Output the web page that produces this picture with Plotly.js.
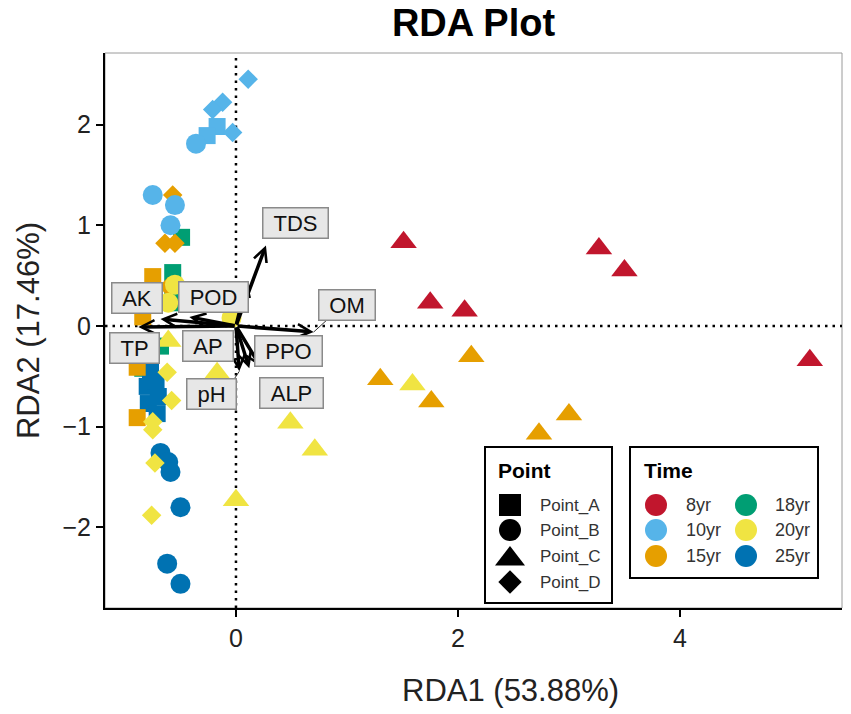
<!DOCTYPE html>
<html>
<head>
<meta charset="utf-8">
<script src="https://cdn.plot.ly/plotly-3.0.1.min.js"></script>
<style>html,body{margin:0;padding:0;background:#fff;}#chart{width:851px;height:714px;}</style>
</head>
<body>
<div id="chart"></div>
<script>
// ---------- data ----------
const timeLevels = ['8yr', '10yr', '15yr', '18yr', '20yr', '25yr'];
const timeColors = ['#C1162D', '#56B4E9', '#E69F00', '#009E73', '#F0E442', '#0072B2'];
const pointLevels = ['Point_A', 'Point_B', 'Point_C', 'Point_D'];
const pointSymbols = ['square', 'circle', 'triangle-up', 'diamond'];

// sample scores (RDA1, RDA2) per time / point
const sampleTime = [
  '8yr','8yr','8yr','8yr','8yr','8yr',
  '10yr','10yr','10yr','10yr','10yr','10yr','10yr','10yr','10yr','10yr',
  '15yr','15yr','15yr','15yr','15yr','15yr','15yr','15yr','15yr','15yr','15yr','15yr','15yr',
  '18yr','18yr','18yr','18yr','18yr','18yr',
  '20yr','20yr','20yr','20yr','20yr','20yr','20yr','20yr','20yr','20yr','20yr','20yr','20yr','20yr','20yr',
  '25yr','25yr','25yr','25yr','25yr','25yr','25yr','25yr','25yr','25yr','25yr','25yr'
];
const samplePoint = [
  'Point_C','Point_C','Point_C','Point_C','Point_C','Point_C',
  'Point_D','Point_D','Point_D','Point_D','Point_A','Point_A','Point_B','Point_B','Point_B','Point_B',
  'Point_D','Point_D','Point_D','Point_D','Point_A','Point_A','Point_A','Point_A','Point_C','Point_C','Point_C','Point_C','Point_C',
  'Point_A','Point_A','Point_A','Point_A','Point_A','Point_A',
  'Point_B','Point_B','Point_B','Point_C','Point_C','Point_C','Point_C','Point_C','Point_C','Point_D','Point_D','Point_D','Point_D','Point_D','Point_D',
  'Point_A','Point_A','Point_A','Point_A','Point_A','Point_A','Point_B','Point_B','Point_B','Point_B','Point_B','Point_B'
];
const rda1 = [
  1.51, 1.75, 2.06, 3.27, 3.50, 5.17,
  0.11, -0.12, -0.21, -0.03, -0.17, -0.26, -0.36, -0.75, -0.55, -0.59,
  -0.57, -0.64, -0.55, -0.61, -0.75, -0.84, -0.89, -0.89, 2.12, 1.30, 1.76, 3.00, 2.73,
  -0.49, -0.57, -0.57, -0.53, -0.68, -0.84,
  -0.55, -0.61, -0.04, 1.59, 0.49, 0.71, 0.00, -0.17, -0.61, -0.62, -0.58, -0.75, -0.75, -0.73, -0.76,
  -0.77, -0.80, -0.79, -0.71, -0.72, -0.70, -0.68, -0.61, -0.59, -0.50, -0.62, -0.50
];
const rda2 = [
  0.83, 0.23, 0.15, 0.77, 0.55, -0.34,
  2.45, 2.22, 2.15, 1.92, 1.98, 1.89, 1.81, 1.30, 1.20, 1.00,
  1.30, 0.82, 0.82, 0.39, 0.49, 0.09, -0.41, -0.91, -0.30, -0.53, -0.75, -0.88, -1.07,
  0.88, 0.53, 0.36, 0.23, -0.20, -0.42,
  0.41, 0.23, 0.08, -0.58, -0.96, -1.23, -1.73, -0.47, -0.15, -0.46, -0.74, -0.95, -1.03, -1.36, -1.88,
  -0.44, -0.60, -0.77, -0.87, -0.55, -0.70, -1.26, -1.35, -1.45, -1.80, -2.36, -2.56
];

// environmental vectors (arrow tips) and their label positions
const envNames = ['TDS', 'OM', 'AK', 'POD', 'TP', 'AP', 'PPO', 'pH', 'ALP'];
const envRDA1 = [0.27, 0.70, -0.68, 0.10, -0.88, -0.42, 0.22, 0.03, 0.12];
const envRDA2 = [0.80, -0.06, 0.07, 0.45, -0.01, 0.09, -0.40, -0.45, -0.42];
const labelRDA1 = [0.54, 1.00, -0.89, -0.20, -0.91, -0.25, 0.47, -0.22, 0.50];
const labelRDA2 = [1.02, 0.21, 0.28, 0.29, -0.22, -0.20, -0.25, -0.68, -0.67];

// ---------- build ----------
const FONT = 'Liberation Sans, Arial, sans-serif';
const drawOrder = ['18yr', '25yr', '15yr', '10yr', '20yr', '8yr'];
const sizeBySymbol = {'square': 17, 'circle': 20, 'triangle-up': 23, 'diamond': 15};
const traces = [];
drawOrder.forEach(t => {
  pointLevels.forEach((p, pi) => {
    const xs = [], ys = [];
    for (let i = 0; i < rda1.length; i++) {
      if (sampleTime[i] === t && samplePoint[i] === p) { xs.push(rda1[i]); ys.push(rda2[i]); }
    }
    if (!xs.length) return;
    const sym = pointSymbols[pi];
    traces.push({
      type: 'scatter', mode: 'markers', x: xs, y: ys, showlegend: false, hoverinfo: 'skip',
      marker: {symbol: sym, size: sizeBySymbol[sym], color: timeColors[timeLevels.indexOf(t)], line: {width: 0}}
    });
  });
});

// repel segments (OM, pH)
traces.push({type: 'scatter', mode: 'lines', x: [envRDA1[1], 0.82], y: [envRDA2[1], 0.06],
  line: {color: '#333', width: 1}, showlegend: false, hoverinfo: 'skip'});
traces.push({type: 'scatter', mode: 'lines', x: [envRDA1[7], -0.03], y: [envRDA2[7], -0.55],
  line: {color: '#333', width: 1}, showlegend: false, hoverinfo: 'skip'});

// legend glyphs on an overlay pixel-space axis
const legPointX = 510, legPointTextX = 538, legPointRows = [505, 530, 556, 582];
const legPointSizes = [22, 22, 26, 18];
pointLevels.forEach((p, i) => {
  traces.push({type: 'scatter', mode: 'markers', xaxis: 'x2', yaxis: 'y2',
    x: [legPointX], y: [legPointRows[i] + (pointSymbols[i] === 'triangle-up' ? 3 : 0)], showlegend: false, hoverinfo: 'skip',
    marker: {symbol: pointSymbols[i], size: legPointSizes[i], color: '#000'}});
});
const legTimeX = [656, 746], legTimeTextX = [684, 773], legTimeRows = [505, 530, 556];
timeLevels.forEach((t, i) => {
  const col = Math.floor(i / 3), row = i % 3;
  traces.push({type: 'scatter', mode: 'markers', xaxis: 'x2', yaxis: 'y2',
    x: [legTimeX[col]], y: [legTimeRows[row]], showlegend: false, hoverinfo: 'skip',
    marker: {symbol: 'circle', size: 22, color: timeColors[i]}});
});

// approximate Arial advance widths for label box sizing
const charW = {T: .611, D: .722, S: .667, O: .778, M: .833, A: .667, K: .667, P: .667, p: .556, H: .722, L: .556};
const labelFontSize = 22;
function boxWidth(s) { let w = 0; for (const c of s) w += (charW[c] || .6); return Math.round(w * labelFontSize + 18); }

const annotations = [];
// arrows
envNames.forEach((n, i) => {
  annotations.push({x: envRDA1[i], y: envRDA2[i], ax: 0, ay: 0, axref: 'x', ayref: 'y', xref: 'x', yref: 'y',
    text: '', showarrow: true, arrowhead: 5, arrowsize: 0.75, arrowwidth: 3.5, arrowcolor: '#000'});
});
// labels
envNames.forEach((n, i) => {
  annotations.push({x: labelRDA1[i], y: labelRDA2[i], xref: 'x', yref: 'y', text: n, showarrow: false,
    font: {family: FONT, size: labelFontSize, color: '#111'}, width: boxWidth(n), height: 27,
    bgcolor: '#E7E7E7', bordercolor: '#8a8a8a', borderwidth: 1.5, borderpad: 1});
});
// x-axis title
annotations.push({xref: 'paper', yref: 'paper', x: (510 - 105) / 737, y: (608 - 690) / 555, xanchor: 'center', yanchor: 'middle',
  text: 'RDA1 (53.88%)', showarrow: false, font: {family: FONT, size: 31, color: '#222'}});
// legend texts
annotations.push({xref: 'x2', yref: 'y2', x: 496, y: 470, xanchor: 'left', yanchor: 'middle', text: '<b>Point</b>',
  showarrow: false, font: {family: FONT, size: 21, color: '#000'}});
annotations.push({xref: 'x2', yref: 'y2', x: 642, y: 470, xanchor: 'left', yanchor: 'middle', text: '<b>Time</b>',
  showarrow: false, font: {family: FONT, size: 21, color: '#000'}});
pointLevels.forEach((p, i) => {
  annotations.push({xref: 'x2', yref: 'y2', x: legPointTextX, y: legPointRows[i], xanchor: 'left', yanchor: 'middle',
    text: p, showarrow: false, font: {family: FONT, size: 17, color: '#333'}});
});
timeLevels.forEach((t, i) => {
  const col = Math.floor(i / 3), row = i % 3;
  annotations.push({xref: 'x2', yref: 'y2', x: legTimeTextX[col], y: legTimeRows[row], xanchor: 'left', yanchor: 'middle',
    text: t, showarrow: false, font: {family: FONT, size: 18, color: '#333'}});
});

const shapes = [
  {type: 'rect', xref: 'paper', yref: 'paper', x0: 0, x1: 1, y0: 0, y1: 1, line: {color: '#9a9a9a', width: 1}, layer: 'below'},
  {type: 'line', xref: 'x', yref: 'paper', x0: 0, x1: 0, y0: 0, y1: 1, line: {color: '#000', width: 2.5, dash: '2.5px,5px'}, layer: 'below'},
  {type: 'line', xref: 'paper', yref: 'y', x0: 0, x1: 1, y0: 0, y1: 0, line: {color: '#000', width: 2.5, dash: '2.5px,5px'}, layer: 'below'},
  {type: 'rect', xref: 'x2', yref: 'y2', x0: 485, x1: 612, y0: 447, y1: 603, line: {color: '#000', width: 2}, fillcolor: '#fff', layer: 'below'},
  {type: 'rect', xref: 'x2', yref: 'y2', x0: 630, x1: 818, y0: 447, y1: 578, line: {color: '#000', width: 2}, fillcolor: '#fff', layer: 'below'}
];

const axisFont = {family: FONT, size: 25, color: '#222'};
const layout = {
  width: 851, height: 714,
  margin: {l: 105, r: 9, t: 53, b: 106},
  paper_bgcolor: '#fff', plot_bgcolor: '#fff',
  showlegend: false,
  title: {text: '<b>RDA Plot</b>', x: 0.5, xref: 'paper', y: 0.968, yref: 'container', yanchor: 'middle',
    font: {family: FONT, size: 38, color: '#000'}},
  xaxis: {range: [-1.18, 5.46], showgrid: false, zeroline: false, showline: true, linecolor: '#000', linewidth: 2,
    ticks: 'outside', ticklen: 7, tickwidth: 2, tickcolor: '#000', tickvals: [0, 2, 4], tickfont: axisFont},
  yaxis: {range: [-2.80, 2.71], showgrid: false, zeroline: false, showline: true, linecolor: '#000', linewidth: 2,
    ticks: 'outside', ticklen: 7, tickwidth: 2, tickcolor: '#000', tickvals: [-2, -1, 0, 1, 2], tickfont: axisFont,
    title: {text: 'RDA2 (17.46%)', standoff: 14, font: {family: FONT, size: 31, color: '#222'}}},
  xaxis2: {overlaying: 'x', range: [105, 842], visible: false, fixedrange: true},
  yaxis2: {overlaying: 'y', anchor: 'x2', range: [608, 53], visible: false, fixedrange: true},
  shapes: shapes,
  annotations: annotations
};

Plotly.newPlot('chart', traces, layout, {displayModeBar: false, staticPlot: true});
</script>
</body>
</html>
